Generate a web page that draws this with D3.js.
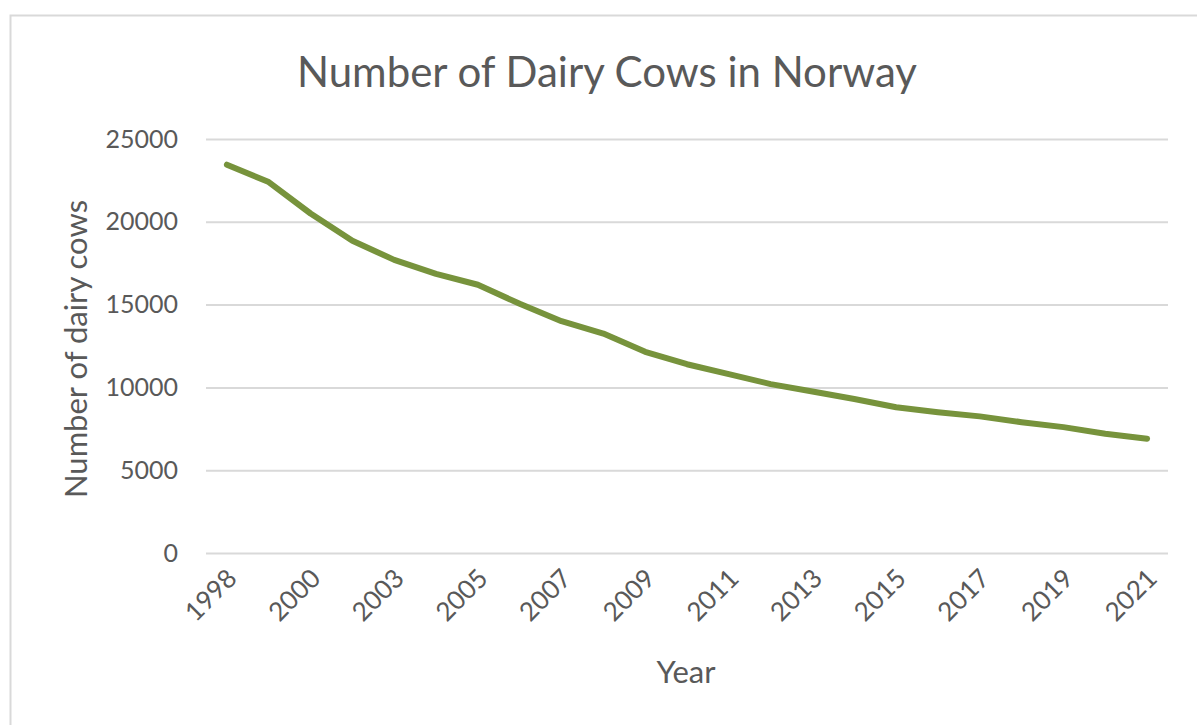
<!DOCTYPE html>
<html>
<head>
<meta charset="utf-8">
<script src="https://cdn.jsdelivr.net/npm/d3@7"></script>
<style>
  html, body { margin: 0; padding: 0; background: #ffffff; }
  svg { display: block; }
  text { font-family: Lato, "Open Sans", sans-serif; fill: #595959; }
</style>
</head>
<body>
<svg id="chart" width="1197" height="725"></svg>
<script>
// Dairy cow counts, Norway (one value per listed year)
const years = ["1998","1999","2000","2002","2003","2004","2005","2006","2007","2008","2009",
               "2010","2011","2012","2013","2014","2015","2016","2017","2018","2019","2020","2021"];
const cows  = [23450, 22400, 20500, 18850, 17700, 16850, 16200, 15050, 14000, 13250, 12150,
               11400, 10800, 10200, 9750, 9300, 8800, 8500, 8250, 7900, 7600, 7200, 6900];
const yTicks = [0, 5000, 10000, 15000, 20000, 25000];

const W = 1197, H = 725;
const plot = { left: 206, right: 1168, top: 139, bottom: 553 };

const svg = d3.select("#chart");

// outer frame of the chart area
svg.append("rect")
  .attr("x", 10.5).attr("y", 15.5)
  .attr("width", W + 20).attr("height", H + 20)
  .attr("fill", "none").attr("stroke", "#d9d9d9").attr("stroke-width", 2);

const x = d3.scalePoint().domain(years).range([plot.left, plot.right]).padding(0.5);
const y = d3.scaleLinear().domain([0, 25000]).range([plot.bottom, plot.top]);

// horizontal gridlines + value labels
const yAxis = d3.axisLeft(y).tickValues(yTicks).tickSize(-(plot.right - plot.left)).tickPadding(28).tickFormat(d3.format("d"));
const gy = svg.append("g").attr("transform", `translate(${plot.left},0)`).call(yAxis);
gy.select(".domain").remove();
gy.selectAll(".tick line").attr("stroke", "#d9d9d9").attr("stroke-width", 2);
gy.selectAll(".tick text").attr("font-size", 25).style("fill", "#595959")
  .attr("font-family", "Lato, sans-serif");

// category labels, every second year, slanted
const xAxis = d3.axisBottom(x).tickValues(years.filter((d, i) => i % 2 === 0)).tickSize(0).tickPadding(0);
const gx = svg.append("g").attr("transform", `translate(0,${plot.bottom})`).call(xAxis);
gx.select(".domain").remove();
gx.selectAll(".tick text")
  .attr("font-size", 26).attr("font-family", "Lato, sans-serif").style("fill", "#595959")
  .attr("text-anchor", "end")
  .attr("dy", null).attr("y", null)
  .attr("transform", "translate(11,27) rotate(-45)");

// data line
const line = d3.line().x((d, i) => x(years[i])).y(d => y(d));
svg.append("path")
  .datum(cows)
  .attr("d", line)
  .attr("fill", "none")
  .attr("stroke", "#77933c")
  .attr("stroke-width", 6)
  .attr("stroke-linejoin", "round")
  .attr("stroke-linecap", "round");

// titles
svg.append("text")
  .attr("x", 607).attr("y", 87)
  .attr("text-anchor", "middle").attr("font-size", 42)
  .text("Number of Dairy Cows in Norway");

svg.append("text")
  .attr("x", 686).attr("y", 683)
  .attr("text-anchor", "middle").attr("font-size", 31)
  .text("Year");

svg.append("text")
  .attr("transform", "translate(87,349) rotate(-90)")
  .attr("text-anchor", "middle").attr("font-size", 31)
  .text("Number of dairy cows");
</script>
</body>
</html>
